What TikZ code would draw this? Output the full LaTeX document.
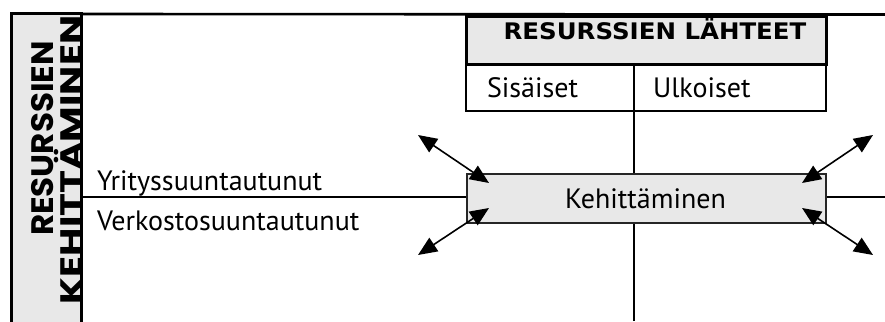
\documentclass[tikz,border=0pt]{standalone}
\usepackage{fontspec}
\usepackage{graphicx}
\setmainfont{PT Sans}
\newfontfamily\headfont{DejaVu Sans}
\newfontfamily\geofont{Poppins}
\usetikzlibrary{arrows.meta}
\definecolor{boxgray}{RGB}{232,232,232}
\tikzset{
  lbl/.style={inner sep=0pt, outer sep=0pt, font=\fontsize{28}{32}\selectfont},
  vlbl/.style={inner sep=0pt, outer sep=0pt, rotate=90, anchor=base, font=\geofont\bfseries\fontsize{31}{36}\selectfont},
  thinline/.style={line width=1.5pt, black},
  dbl/.style={line width=1.6pt, {Triangle[length=19pt,width=16pt]}-{Triangle[length=19pt,width=16pt]}},
}
\begin{document}
\begin{tikzpicture}[x=1pt,y=-1pt]
\useasboundingbox (0,0) rectangle (885,321);
% left bar
\node[draw=none, fill=boxgray, minimum width=70pt, minimum height=320pt, inner sep=0pt, anchor=north west] (bar) at (11,14) {};
\node[vlbl] (res) at (53,138.5) {\scalebox{1.05}[1]{RESURSSIEN}};
\node[vlbl] (keh) at (82,160) {\scalebox{1.25}[1]{KEHITTÄMINEN}};
\draw[line width=3pt] (bar.south west) -- (bar.north west) -- (bar.north east) -- (bar.south east);
% top line
\coordinate (topend) at (885,14.5);
\draw[line width=2.6pt] (bar.north east) -- (topend);
% header box
\node[draw, line width=3pt, fill=boxgray, minimum width=360pt, minimum height=48pt, inner sep=0pt, anchor=north west] (head) at (465,15) {};
\node[inner sep=0pt, anchor=base, font=\headfont\bfseries\fontsize{24}{28}\selectfont] (headtxt) at (655,39.5) {\scalebox{1.02}[0.95]{RESURSSIEN LÄHTEET}};
\node[draw, thinline, minimum width=360pt, minimum height=47pt, inner sep=0pt, anchor=north west] (row) at (465,63) {};
\node[lbl, anchor=base west] (sis) at (487,97) {Sisäiset};
\node[lbl, anchor=base west] (ulk) at (653,97) {Ulkoiset};
% middle box
\node[draw=black!85, line width=1.5pt, fill=boxgray, minimum width=359pt, minimum height=49pt, inner sep=0pt, anchor=north west] (mid) at (466,173) {};
\node[lbl, anchor=base] (kehtxt) at (645.5,208) {Kehittäminen};
% axes
\coordinate (divtop) at (634,63);
\coordinate (divbot) at (634,321);
\coordinate (hleft) at (82,197);
\coordinate (hright) at (885,197);
\draw[thinline] (divtop) -- (divtop |- mid.north);
\draw[thinline] (divbot) -- (divbot |- mid.south);
\draw[thinline] (hleft) -- (hleft -| mid.west);
\draw[thinline] (hright) -- (hright -| mid.east);
% side labels
\node[lbl, anchor=base west] (yri) at (97,190) {Yrityssuuntautunut};
\node[lbl, anchor=base west] (ver) at (97,230) {Verkostosuuntautunut};
% arrows
\coordinate (tlo) at (418,135);
\coordinate (tli) at (489,183);
\coordinate (blo) at (418,255);
\coordinate (bli) at (489,208);
\coordinate (tro) at (873,135);
\coordinate (tri) at (802,183);
\coordinate (bro) at (873,255);
\coordinate (bri) at (802,208);
\draw[dbl] (tlo) -- (tli);
\draw[dbl] (blo) -- (bli);
\draw[dbl] (tro) -- (tri);
\draw[dbl] (bro) -- (bri);
\end{tikzpicture}
\end{document}
